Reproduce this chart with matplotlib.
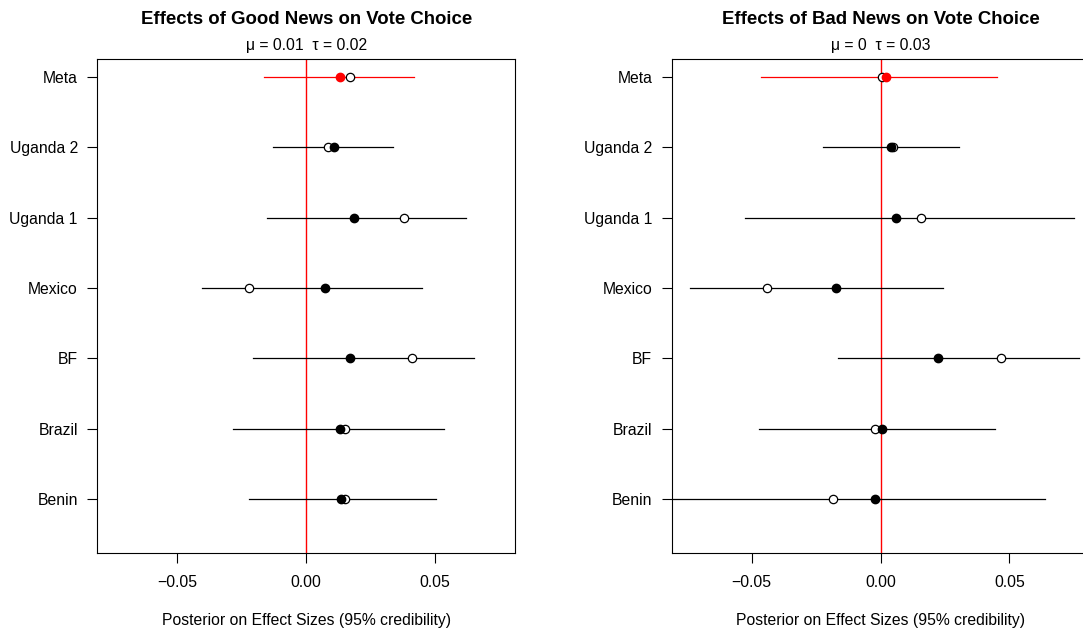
import matplotlib
matplotlib.use("Agg")
import matplotlib.pyplot as plt

plt.rcParams['font.family'] = ['Liberation Sans', 'DejaVu Sans']

studies = ["Benin", "Brazil", "BF", "Mexico", "Uganda 1", "Uganda 2", "Meta"]

# Good news panel
good_lo = [-0.0221, -0.0283, -0.0207, -0.0404, -0.0150, -0.0127, -0.0165]
good_hi = [0.0502, 0.0533, 0.0650, 0.0448, 0.0620, 0.0338, 0.0417]
good_post = [0.0137, 0.0130, 0.0172, 0.0073, 0.0186, 0.0109, 0.0132]
good_raw = [0.0150, 0.0150, 0.0410, -0.0220, 0.0379, 0.0083, 0.0170]

# Bad news panel
bad_lo = [-0.0850, -0.0471, -0.0165, -0.0740, -0.0527, -0.0223, -0.0463]
bad_hi = [0.0637, 0.0444, 0.0769, 0.0243, 0.0750, 0.0305, 0.0453]
bad_post = [-0.0022, 0.0006, 0.0224, -0.0174, 0.0061, 0.0041, 0.0021]
bad_raw = [-0.0186, -0.0022, 0.0468, -0.0439, 0.0155, 0.0049, 0.0006]

titles = ["Effects of Good News on Vote Choice", "Effects of Bad News on Vote Choice"]
subtitles = ["\u03bc = 0.01  \u03c4 = 0.02", "\u03bc = 0  \u03c4 = 0.03"]
xticks = [-0.05, 0.00, 0.05]
xticklabels = ["\u22120.05", "0.00", "0.05"]
xlabel = "Posterior on Effect Sizes (95% credibility)"

W, H = 1083, 633
fig = plt.figure(figsize=(W / 100, H / 100), dpi=100)

panels = [
    (good_lo, good_hi, good_post, good_raw),
    (bad_lo, bad_hi, bad_post, bad_raw),
]
lefts = [97.3, 671.7]
pw = 417.7
top, bot = 58.7, 552.7
fs = 11.3

for i, (lo, hi, post, raw) in enumerate(panels):
    ax = fig.add_axes([lefts[i] / W, (H - bot) / H, pw / W, (bot - top) / H])
    ax.set_xlim(-0.081, 0.081)
    ax.set_ylim(0.24, 7.26)
    ax.axvline(0, color="#ff0000", lw=1.0, zorder=1)
    n = len(studies)
    for j in range(n):
        y = j + 1
        meta = studies[j] == "Meta"
        col = "#ff0000" if meta else "black"
        ax.plot([lo[j], hi[j]], [y, y], color=col, lw=0.9, zorder=2)
        ax.plot([raw[j]], [y], marker="o", markersize=6, markerfacecolor="white",
                markeredgecolor="black", markeredgewidth=0.9, linestyle="none", zorder=3)
        ax.plot([post[j]], [y], marker="o", markersize=6, markerfacecolor=col,
                markeredgecolor=col, linestyle="none", zorder=4)
    ax.set_yticks(range(1, n + 1))
    ax.set_yticklabels(studies, fontsize=fs)
    ax.set_xticks(xticks)
    ax.set_xticklabels(xticklabels, fontsize=fs)
    ax.tick_params(axis="both", length=7, width=0.8, color="black", pad=7)
    ax.tick_params(axis="x", pad=9)
    for s in ax.spines.values():
        s.set_linewidth(0.8)
        s.set_color("black")
    cx = (lefts[i] + pw / 2) / W
    fig.text(cx, 1 - 20 / H, titles[i], ha="center", va="center",
             fontsize=13.4, fontweight="bold")
    fig.text(cx, 1 - 45.7 / H, subtitles[i], ha="center", va="center", fontsize=fs)
    fig.text(cx, 1 - 620 / H, xlabel, ha="center", va="center", fontsize=fs)

fig.savefig("out.png", dpi=100)
